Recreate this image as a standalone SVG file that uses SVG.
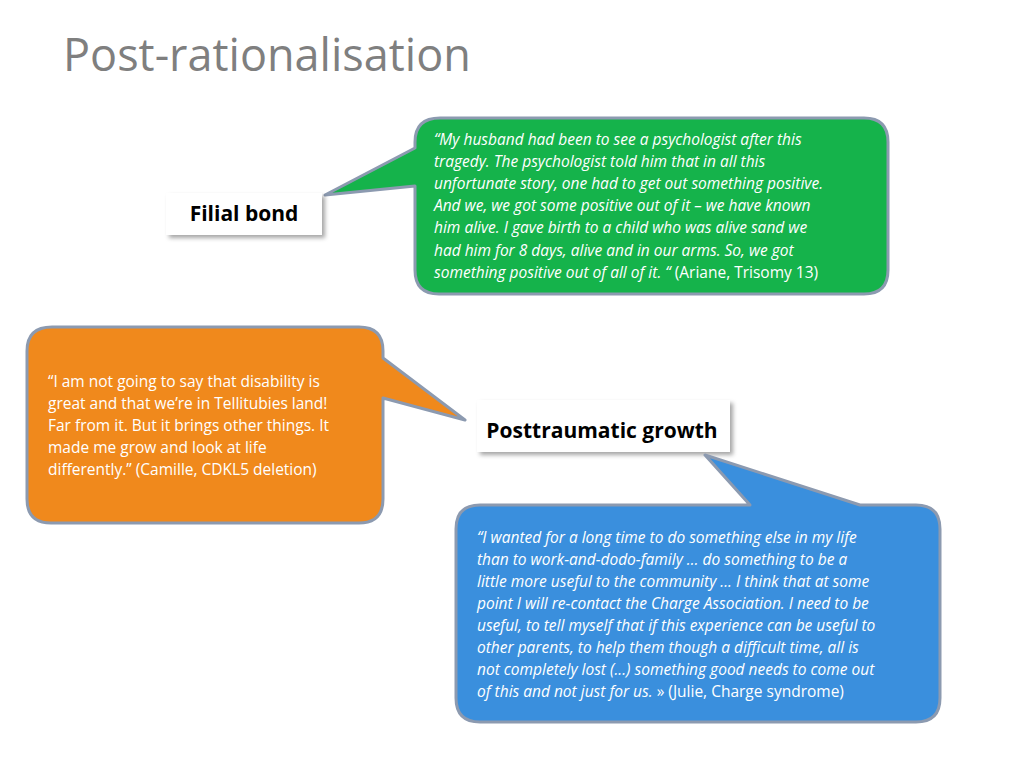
<svg xmlns="http://www.w3.org/2000/svg" width="1024" height="768" viewBox="0 0 1024 768">
<style>
.t{font-family:"Open Sans","Liberation Sans",sans-serif;fill:#fff;font-size:15.5px}
.i{font-style:italic}
.lbl{font-family:"Open Sans","Liberation Sans",sans-serif;font-weight:bold;font-size:21px;fill:#000}
.co{stroke:#8c9ab0;stroke-width:3;stroke-linejoin:round}
.box{fill:#fff;filter:url(#sh)}
</style>
<defs><filter id="sh" x="-10%" y="-20%" width="130%" height="160%"><feDropShadow dx="3" dy="3" stdDeviation="2" flood-color="#000" flood-opacity="0.35"/></filter></defs>
<rect width="1024" height="768" fill="#fff"/>
<text x="63" y="71" font-family="Open Sans,Liberation Sans,sans-serif" font-size="45" fill="#7f7f7f">Post-rationalisation</text>
<g id="connectors"></g>
<g id="green">
<path class="co" fill="#15b34b" d="M440 118H864Q888 118 888 142V270Q888 294 864 294H439Q415 294 415 270V186L325 195L415 148V142Q415 118 440 118Z"/>
<text class="t i" x="434"><tspan y="145" x="434">“My husband had been to see a psychologist after this</tspan><tspan y="167" x="434">tragedy. The psychologist told him that in all this</tspan><tspan y="189" x="434">unfortunate story, one had to get out something positive.</tspan><tspan y="211" x="434">And we, we got some positive out of it – we have known</tspan><tspan y="233" x="434">him alive. I gave birth to a child who was alive sand we</tspan><tspan y="256" x="434">had him for 8 days, alive and in our arms. So, we got</tspan><tspan y="278" x="434">something positive out of all of it. “ <tspan font-style="normal">(Ariane, Trisomy 13)</tspan></tspan></text>
</g>
<g id="filial"><rect class="box" x="166" y="193" width="156" height="42"/><text class="lbl" x="244" y="221" text-anchor="middle">Filial bond</text></g>
<g id="orange">
<path class="co" fill="#f0891c" d="M52 327H359Q383 327 383 351V358L465 420L383 398V499Q383 523 359 523H51Q27 523 27 499V351Q27 327 52 327Z"/>
<text class="t"><tspan x="48" y="387">“I am not going to say that disability is</tspan><tspan x="48" y="409">great and that we’re in Tellitubies land!</tspan><tspan x="48" y="431">Far from it. But it brings other things. It</tspan><tspan x="48" y="453">made me grow and look at life</tspan><tspan x="48" y="475">differently.” (Camille, CDKL5 deletion)</tspan></text>
</g>
<g id="ptg"><rect class="box" x="477" y="400" width="253" height="52"/><text class="lbl" x="602" y="438" text-anchor="middle">Posttraumatic growth</text></g>
<g id="blue">
<path class="co" fill="#3a8fdd" d="M480 505H750L705 455L860 505H916Q940 505 940 529V698Q940 722 916 722H480Q456 722 456 698V529Q456 505 480 505Z"/>
<text class="t i"><tspan x="477" y="543">“I wanted for a long time to do something else in my life</tspan><tspan x="477" y="565">than to work-and-dodo-family … do something to be a</tspan><tspan x="477" y="587">little more useful to the community ... I think that at some</tspan><tspan x="477" y="609">point I will re-contact the Charge Association. I need to be</tspan><tspan x="477" y="631">useful, to tell myself that if this experience can be useful to</tspan><tspan x="477" y="653">other parents, to help them though a difficult time, all is</tspan><tspan x="477" y="675">not completely lost (...) something good needs to come out</tspan><tspan x="477" y="697">of this and not just for us. <tspan font-style="normal">» (Julie, Charge syndrome)</tspan></tspan></text>
</g>
</svg>
